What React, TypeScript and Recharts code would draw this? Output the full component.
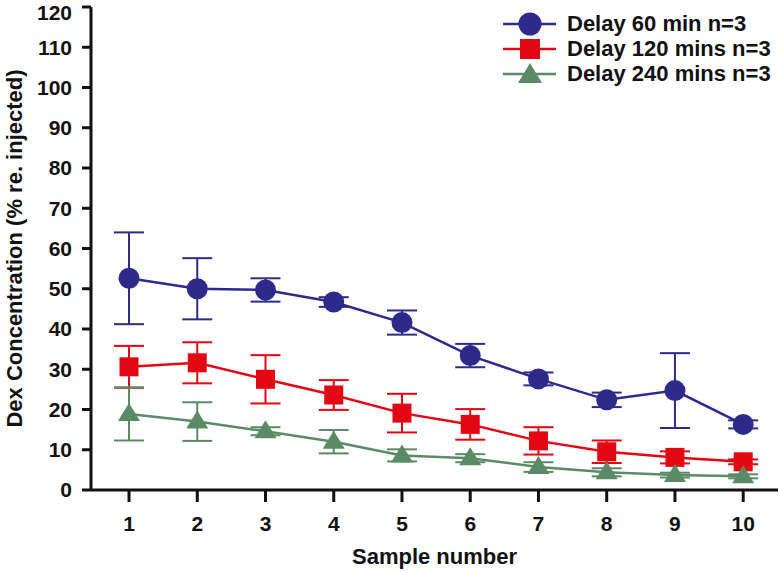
import { LineChart, Line, XAxis, YAxis, ErrorBar } from "recharts";

const samples = [1, 2, 3, 4, 5, 6, 7, 8, 9, 10];
const yTicks = [0, 10, 20, 30, 40, 50, 60, 70, 80, 90, 100, 110, 120];

const delay60 = [52.6, 50.0, 49.7, 46.7, 41.6, 33.4, 27.6, 22.4, 24.7, 16.3];
const delay60Err = [11.4, 7.6, 2.9, 1.2, 3.0, 2.9, 1.6, 1.8, 9.3, 1.0];
const delay120 = [30.6, 31.6, 27.5, 23.6, 19.1, 16.3, 12.2, 9.5, 8.1, 7.0];
const delay120Err = [5.2, 5.1, 6.0, 3.7, 4.8, 3.8, 3.4, 2.8, 1.5, 0.6];
const delay240 = [18.9, 17.0, 14.6, 12.0, 8.6, 7.9, 5.7, 4.4, 3.7, 3.4];
const delay240Err = [6.6, 4.8, 1.0, 2.9, 1.5, 1.0, 1.2, 1.0, 0.6, 0.5];

const BLUE = "#2d2a8b";
const RED = "#e30613";
const GREEN = "#5b8a66";

const data = samples.map((s, i) => ({
  sample: s,
  d60: delay60[i],
  e60: delay60Err[i],
  d120: delay120[i],
  e120: delay120Err[i],
  d240: delay240[i],
  e240: delay240Err[i],
}));

const FONT = "'Liberation Sans', Arial, sans-serif";

const circleDot = (p: any) => (
  <circle key={`c${p.index}`} cx={p.cx} cy={p.cy} r={10.5} fill={BLUE} />
);
const squareDot = (p: any) => (
  <rect key={`s${p.index}`} x={p.cx - 9.5} y={p.cy - 9.5} width={19} height={19} fill={RED} />
);
const triangleDot = (p: any) => (
  <polygon
    key={`t${p.index}`}
    points={`${p.cx},${p.cy - 11} ${p.cx + 11},${p.cy + 7} ${p.cx - 11},${p.cy + 7}`}
    fill={GREEN}
  />
);

const legendItems = [
  { label: "Delay 60 min n=3", color: BLUE, shape: "circle" },
  { label: "Delay 120 mins n=3", color: RED, shape: "square" },
  { label: "Delay 240 mins n=3", color: GREEN, shape: "triangle" },
];

function LegendBox() {
  return (
    <div
      style={{
        position: "absolute",
        left: 500,
        top: 11,
        fontFamily: FONT,
        fontWeight: "bold",
        fontSize: 22,
        color: "#111",
      }}
    >
      {legendItems.map((it) => (
        <div key={it.label} style={{ display: "flex", alignItems: "center", height: 25 }}>
          <svg width={60} height={26}>
            <line x1={3} y1={13} x2={56} y2={13} stroke={it.color} strokeWidth={2.5} />
            {it.shape === "circle" && <circle cx={30} cy={13} r={11.5} fill={it.color} />}
            {it.shape === "square" && <rect x={20} y={3} width={20} height={20} fill={it.color} />}
            {it.shape === "triangle" && <polygon points="30,2 42,22 18,22" fill={it.color} />}
          </svg>
          <span style={{ marginLeft: 7, whiteSpace: "nowrap" }}>{it.label}</span>
        </div>
      ))}
    </div>
  );
}

const tickStyle = { fontFamily: FONT, fontWeight: "bold", fontSize: 21, fill: "#111" };
const titleStyle = { fontFamily: FONT, fontWeight: "bold", fontSize: 22, fill: "#111" };

export default function App() {
  return (
    <div style={{ position: "absolute", left: 0, top: 0, width: 779, height: 571, background: "#fff" }}>
      <LineChart width={779} height={571} data={data} margin={{ top: 7, right: 1, left: 0, bottom: 0 }}>
        <XAxis
          dataKey="sample"
          type="number"
          domain={[0.443, 10.51]}
          ticks={samples}
          allowDataOverflow
          height={81}
          tickSize={12}
          tickMargin={14}
          tick={tickStyle}
          axisLine={{ stroke: "#111", strokeWidth: 3 }}
          tickLine={{ stroke: "#111", strokeWidth: 3 }}
          label={{ value: "Sample number", position: "insideBottom", offset: 7, style: titleStyle }}
        />
        <YAxis
          type="number"
          domain={[0, 120]}
          ticks={yTicks}
          width={91}
          tickSize={9}
          tickMargin={10}
          tick={tickStyle}
          axisLine={{ stroke: "#111", strokeWidth: 3 }}
          tickLine={{ stroke: "#111", strokeWidth: 3 }}
          label={{
            value: "Dex Concentration (% re. injected)",
            angle: -90,
            position: "insideLeft",
            offset: 14,
            style: { ...titleStyle, textAnchor: "middle" },
          }}
        />
        <Line dataKey="d60" stroke={BLUE} strokeWidth={2.5} dot={circleDot} isAnimationActive={false}>
          <ErrorBar dataKey="e60" width={15} stroke={BLUE} strokeWidth={2} direction="y" />
        </Line>
        <Line dataKey="d120" stroke={RED} strokeWidth={2.5} dot={squareDot} isAnimationActive={false}>
          <ErrorBar dataKey="e120" width={15} stroke={RED} strokeWidth={2} direction="y" />
        </Line>
        <Line dataKey="d240" stroke={GREEN} strokeWidth={2.5} dot={triangleDot} isAnimationActive={false}>
          <ErrorBar dataKey="e240" width={15} stroke={GREEN} strokeWidth={2} direction="y" />
        </Line>
      </LineChart>
      <LegendBox />
    </div>
  );
}
